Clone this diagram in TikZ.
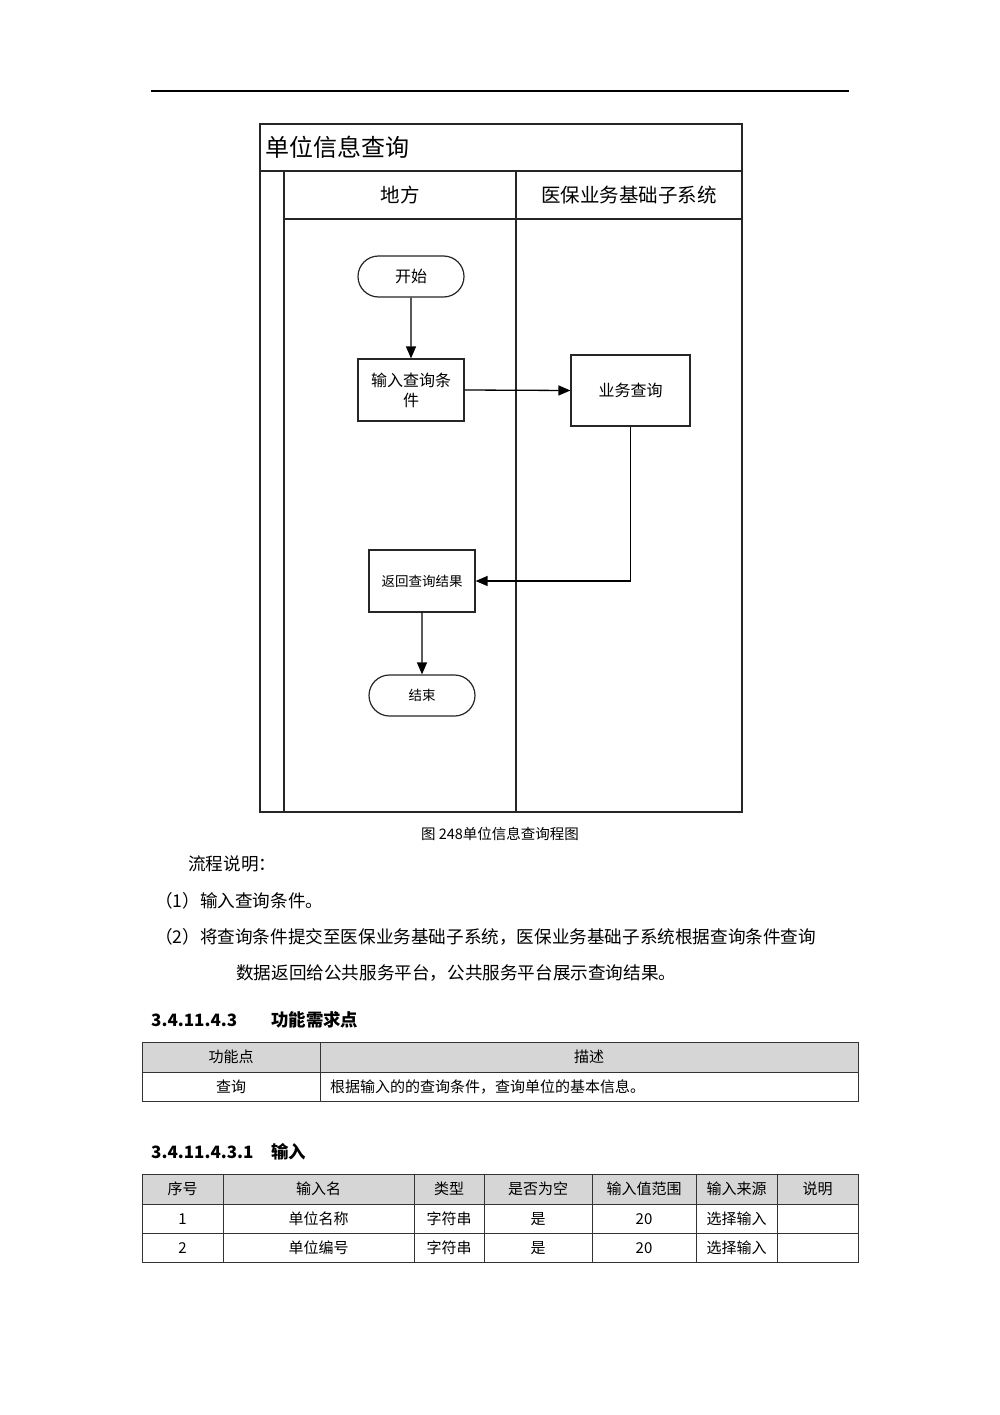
\documentclass[tikz,border=0pt]{standalone}
\usepackage{fontspec}
\setmainfont{Noto Sans CJK SC}
\usetikzlibrary{arrows.meta,shapes.misc}
\begin{document}
\begin{tikzpicture}[x=1pt,y=-1pt,
  frame/.style={line width=1.3pt,draw=black!85},
  proc/.style={draw=black!85,line width=1.2pt,rectangle,minimum width=#1,inner sep=2pt,align=center},
  term/.style={draw=black!85,line width=1.2pt,rounded rectangle,minimum width=106pt,minimum height=41pt,inner sep=0pt},
  flow/.style={line width=1.3pt,-{Triangle[length=12pt,width=10pt]}},
  txt/.style={inner sep=0pt,anchor=west},
  cell/.style={inner sep=0pt},
  tline/.style={line width=1pt,draw=black!80}]
\useasboundingbox (0,0) rectangle (1000,1415);
\fill[white] (0,0) rectangle (1000,1415);
% header rule
\draw[line width=1.2pt] (151,91) -- (849,91);
% swimlane frame
\draw[frame] (260,124) rectangle (742,812);
\draw[frame] (260,171) -- (742,171);
\draw[frame] (284,171) -- (284,812);
\draw[frame] (284,219) -- (742,219);
\draw[frame] (516,171) -- (516,812);
\node[txt,font=\fontsize{24}{28}\selectfont] (title) at (265,147) {单位信息查询};
\node[cell,font=\fontsize{19.5}{24}\selectfont] (laneA) at (400,195) {地方};
\node[cell,font=\fontsize{19.5}{24}\selectfont] (laneB) at (629,195) {医保业务基础子系统};
% flow nodes
\node[term,font=\fontsize{16}{20}\selectfont] (start) at (411,276.5) {开始};
\node[proc=106pt,minimum height=62pt,font=\fontsize{16}{20}\selectfont] (input) at (411,390) {输入查询条\\件};
\node[proc=119pt,minimum height=71pt,font=\fontsize{16}{20}\selectfont] (query) at (630.5,390.5) {业务查询};
\node[proc=106pt,minimum height=62pt,font=\fontsize{13.5}{16}\selectfont] (ret) at (422,581) {返回查询结果};
\node[term,font=\fontsize{13.5}{16}\selectfont] (end) at (422,695.5) {结束};
\draw[flow] (start) -- (input);
\draw[flow] (input.east) -- (query.west);
\draw[flow] (query.south) |- (ret.east);
\draw[flow] (ret) -- (end);
% caption and text
\node[cell,font=\fontsize{14.5}{17}\selectfont] (cap) at (500,834) {图 248单位信息查询程图};
\node[txt,font=\fontsize{17.6}{20}\selectfont] (p0) at (188,864) {流程说明：};
\node[txt,font=\fontsize{17.6}{20}\selectfont] (p1) at (155,901) {（1）输入查询条件。};
\node[txt,font=\fontsize{17.6}{20}\selectfont] (p2) at (155,937) {（2）将查询条件提交至医保业务基础子系统，医保业务基础子系统根据查询条件查询};
\node[txt,font=\fontsize{17.6}{20}\selectfont] (p3) at (236,973) {数据返回给公共服务平台，公共服务平台展示查询结果。};
\node[txt,font=\bfseries\fontsize{17}{20}\selectfont] (h1) at (151,1020) {3.4.11.4.3};
\node[txt,font=\bfseries\fontsize{17.4}{20}\selectfont] (h1b) at (271,1020) {功能需求点};
% table 1
\fill[black!16] (142,1042) rectangle (858,1072);
\draw[tline] (142,1042) rectangle (858,1101);
\draw[tline] (142,1072) -- (858,1072);
\draw[tline] (320,1042) -- (320,1101);
\node[cell,font=\fontsize{15}{18}\selectfont] (t1h1) at (231,1057) {功能点};
\node[cell,font=\fontsize{15}{18}\selectfont] (t1h2) at (589,1057) {描述};
\node[cell,font=\fontsize{15}{18}\selectfont] (t1c1) at (231,1087) {查询};
\node[txt,font=\fontsize{15}{18}\selectfont] (t1c2) at (330,1087) {根据输入的的查询条件，查询单位的基本信息。};
% heading 2
\node[txt,font=\bfseries\fontsize{17}{20}\selectfont] (h2) at (151,1152) {3.4.11.4.3.1};
\node[txt,font=\bfseries\fontsize{17.4}{20}\selectfont] (h2b) at (271,1152) {输入};
% table 2
\fill[black!16] (142,1174) rectangle (858,1204);
\draw[tline] (142,1174) rectangle (858,1262);
\draw[tline] (142,1204) -- (858,1204);
\draw[tline] (142,1233) -- (858,1233);
\foreach \xx in {223,414,484,592,696,777} \draw[tline] (\xx,1174) -- (\xx,1262);
\begin{scope}[every node/.style={cell,font=\fontsize{15}{18}\selectfont}]
\node (a1) at (182.5,1189) {序号};
\node (a2) at (318.5,1189) {输入名};
\node (a3) at (449,1189) {类型};
\node (a4) at (538,1189) {是否为空};
\node (a5) at (644,1189) {输入值范围};
\node (a6) at (736.5,1189) {输入来源};
\node (a7) at (817.5,1189) {说明};
\node (b1) at (182.5,1219) {1};
\node (b2) at (318.5,1219) {单位名称};
\node (b3) at (449,1219) {字符串};
\node (b4) at (538,1219) {是};
\node (b5) at (644,1219) {20};
\node (b6) at (736.5,1219) {选择输入};
\node (c1) at (182.5,1248) {2};
\node (c2) at (318.5,1248) {单位编号};
\node (c3) at (449,1248) {字符串};
\node (c4) at (538,1248) {是};
\node (c5) at (644,1248) {20};
\node (c6) at (736.5,1248) {选择输入};
\end{scope}
\end{tikzpicture}
\end{document}
